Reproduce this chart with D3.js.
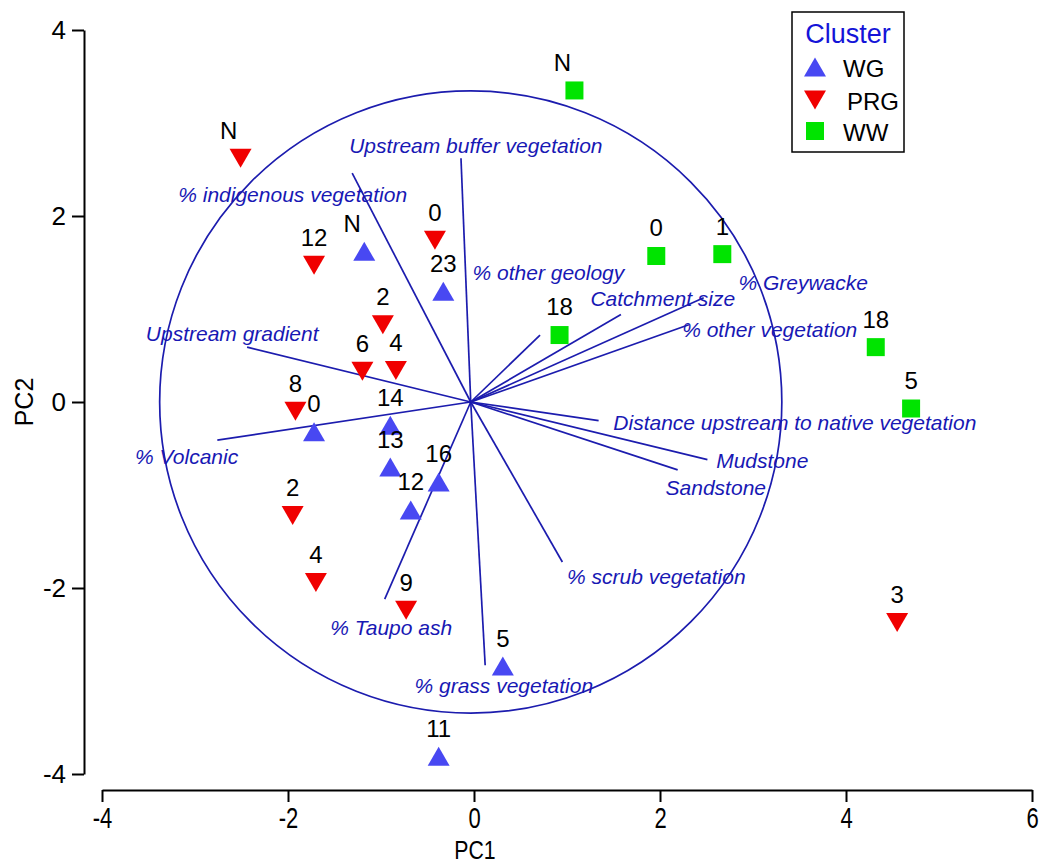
<!DOCTYPE html>
<html>
<head>
<meta charset="utf-8">
<script src="https://cdn.jsdelivr.net/npm/d3@7"></script>
<style>
  body { margin: 0; background: #fff; }
  text { font-family: Arial, "Liberation Sans", sans-serif; }
</style>
</head>
<body>
<div id="chart"></div>
<script>
// sites by cluster (PC1, PC2 scores + point labels)
var wgLabels = ["N", "23", "0", "14", "13", "16", "12", "5", "11"];
var wgPC1 = [-1.18, -0.33, -1.72, -0.90, -0.90, -0.38, -0.68, 0.31, -0.38];
var wgPC2 = [1.62, 1.19, -0.32, -0.25, -0.70, -0.86, -1.16, -2.84, -3.81];

var prgLabels = ["N", "12", "0", "2", "6", "4", "8", "2", "4", "9", "3"];
var prgPC1 = [-2.51, -1.72, -0.42, -0.98, -1.20, -0.84, -1.92, -1.95, -1.70, -0.73, 4.55];
var prgPC2 = [2.62, 1.47, 1.74, 0.83, 0.33, 0.34, -0.10, -1.22, -1.94, -2.24, -2.37];

var wwLabels = ["N", "0", "1", "18", "18", "5"];
var wwPC1 = [1.08, 1.96, 2.67, 0.92, 4.32, 4.70];
var wwPC2 = [3.35, 1.57, 1.59, 0.72, 0.59, -0.07];

// environmental vectors
var vecNames = ["Upstream buffer vegetation", "% indigenous vegetation", "Upstream gradient",
  "% Volcanic", "% Taupo ash", "% grass vegetation", "% scrub vegetation", "Sandstone",
  "Mudstone", "Distance upstream to native vegetation", "% other vegetation",
  "% Greywacke", "Catchment size", "% other geology"];
var vecPC1 = [-0.14, -1.31, -2.44, -2.76, -0.96, 0.12, 0.95, 2.19, 2.51, 1.34, 2.31, 2.47, 1.58, 0.71];
var vecPC2 = [2.62, 2.46, 0.59, -0.41, -2.12, -2.83, -1.72, -0.73, -0.62, -0.20, 0.83, 1.12, 0.94, 0.72];
// where each vector name sits (PC units)
var vecLabPC1 = [0.02, -1.95, -2.60, -3.09, -0.89, 0.32, 1.96, 2.60, 3.10, 3.45, 3.18, 3.54, 2.03, 0.80];
var vecLabPC2 = [2.76, 2.23, 0.74, -0.59, -2.43, -3.05, -1.88, -0.92, -0.63, -0.22, 0.78, 1.28, 1.11, 1.39];

var vecOrigin = [-0.035, 0];
var circleR = 3.345;

var xTicks = [-4, -2, 0, 2, 4, 6];
var yTicks = [-4, -2, 0, 2, 4];

var clusters = ["WG", "PRG", "WW"];
var colors = {WG: "#4848f2", PRG: "#f00000", WW: "#00e400"};
var vecColor = "#1c1cae";

var width = 1043, height = 866;

var svg = d3.select("#chart").append("svg")
  .attr("width", width)
  .attr("height", height);

var x = d3.scaleLinear().domain([-4, 6]).range([102, 1032]);
var y = d3.scaleLinear().domain([-4, 4]).range([774, 30]);

// axes (plain hyphen for negatives, like the original)
var fmt = d => String(d);
var xAxis = svg.append("g")
  .attr("transform", "translate(0,790)")
  .call(d3.axisBottom(x).tickValues(xTicks).tickSize(12).tickSizeOuter(0).tickPadding(5).tickFormat(fmt));
xAxis.selectAll("text")
  .style("font-size", "29px")
  .attr("fill", "#000")
  .attr("transform", "scale(0.76,1)");
var yAxis = svg.append("g")
  .attr("transform", "translate(84,0)")
  .call(d3.axisLeft(y).tickValues(yTicks).tickSize(12).tickSizeOuter(0).tickPadding(6).tickFormat(fmt));
yAxis.selectAll("text").style("font-size", "26px").attr("fill", "#000");
svg.selectAll(".domain, .tick line").attr("stroke", "#000").attr("stroke-width", 2);

svg.append("text")
  .attr("transform", "translate(475,859) scale(0.85,1)")
  .attr("text-anchor", "middle")
  .style("font-size", "25px")
  .text("PC1");
svg.append("text")
  .attr("transform", "translate(33,402) rotate(-90)")
  .attr("text-anchor", "middle")
  .style("font-size", "25px")
  .text("PC2");

// correlation circle
var ox = x(vecOrigin[0]), oy = y(vecOrigin[1]);
svg.append("circle")
  .attr("cx", ox).attr("cy", oy)
  .attr("r", x(circleR) - x(0))
  .attr("fill", "none")
  .attr("stroke", vecColor)
  .attr("stroke-width", 1.7);

var vecs = vecNames.map(function(n, i) {
  return {name: n, x: vecPC1[i], y: vecPC2[i], lx: vecLabPC1[i], ly: vecLabPC2[i]};
});

svg.append("g").selectAll("line")
  .data(vecs).enter().append("line")
  .attr("x1", ox).attr("y1", oy)
  .attr("x2", d => x(d.x)).attr("y2", d => y(d.y))
  .attr("stroke", vecColor)
  .attr("stroke-width", 1.7);

// points
function tri(w, h, down) {
  var s = down ? -1 : 1;
  return "M0," + (-s * h / 2) + "L" + (w / 2) + "," + (s * h / 2) + "L" + (-w / 2) + "," + (s * h / 2) + "Z";
}
var shapes = {
  WG: tri(22, 19, false),
  PRG: tri(22, 19, true),
  WW: "M-9,-9H9V9H-9Z"
};

var pts = [];
wgLabels.forEach((l, i) => pts.push({c: "WG", label: l, x: wgPC1[i], y: wgPC2[i]}));
prgLabels.forEach((l, i) => pts.push({c: "PRG", label: l, x: prgPC1[i], y: prgPC2[i]}));
wwLabels.forEach((l, i) => pts.push({c: "WW", label: l, x: wwPC1[i], y: wwPC2[i]}));

svg.append("g").selectAll("path")
  .data(pts).enter().append("path")
  .attr("transform", d => "translate(" + x(d.x) + "," + y(d.y) + ")")
  .attr("d", d => shapes[d.c])
  .attr("fill", d => colors[d.c]);

// vector names drawn over the points
svg.append("g").selectAll("text")
  .data(vecs).enter().append("text")
  .attr("x", d => x(d.lx)).attr("y", d => y(d.ly))
  .attr("dy", "0.35em")
  .attr("text-anchor", "middle")
  .style("font-size", "21px")
  .style("font-style", "italic")
  .attr("fill", "#1818b4")
  .text(d => d.name);

svg.append("g").selectAll("text")
  .data(pts).enter().append("text")
  .attr("x", d => x(d.x) + (d.label == "N" ? -12 : 0))
  .attr("y", d => y(d.y) - 28)
  .attr("dy", "0.35em")
  .attr("text-anchor", "middle")
  .style("font-size", "24px")
  .attr("fill", "#000")
  .text(d => d.label);

// legend
var legend = svg.append("g");
legend.append("rect")
  .attr("x", 792).attr("y", 12)
  .attr("width", 112).attr("height", 140)
  .attr("fill", "#fff")
  .attr("stroke", "#000")
  .attr("stroke-width", 1.5);
legend.append("text")
  .attr("x", 848).attr("y", 34)
  .attr("dy", "0.35em")
  .attr("text-anchor", "middle")
  .style("font-size", "27px")
  .attr("fill", "#1414d8")
  .text("Cluster");
var legY = [67, 100, 131];
clusters.forEach(function(c, i) {
  legend.append("path")
    .attr("transform", "translate(815," + legY[i] + ")")
    .attr("d", shapes[c])
    .attr("fill", colors[c]);
  legend.append("text")
    .attr("x", i == 1 ? 847 : 843).attr("y", legY[i] + 2)
    .attr("dy", "0.35em")
    .style("font-size", "24px")
    .text(c);
});
</script>
</body>
</html>
